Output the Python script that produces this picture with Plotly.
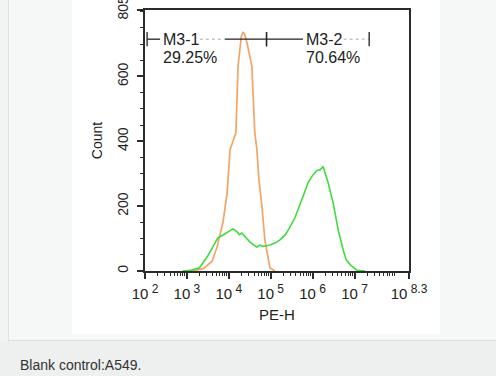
import plotly.graph_objects as go

# ---- data (x as log10 exponents of PE-H, y = Count) ----
blank_exp = [2.9, 3.2, 3.4, 3.6, 3.72, 3.86, 3.96, 4.03, 4.1, 4.17, 4.22, 4.26, 4.3, 4.34, 4.38, 4.44,
             4.5, 4.55, 4.62, 4.67, 4.72, 4.79, 4.86, 4.93, 4.98, 5.1]
blank_cnt = [0, 2, 8, 30, 74, 149, 241, 375, 400, 427, 631, 690, 725, 737, 730, 700,
             660, 631, 427, 375, 280, 200, 96, 40, 10, 0]

sample_exp = [2.9, 3.1, 3.3, 3.48, 3.6, 3.74, 3.86, 3.95, 4.05, 4.1, 4.2, 4.25, 4.31, 4.39, 4.5, 4.6,
              4.67, 4.74, 4.81, 4.9, 4.98, 5.1, 5.22, 5.35, 5.45, 5.58, 5.7, 5.8, 5.89, 6.0, 6.1,
              6.18, 6.25, 6.3, 6.37, 6.49, 6.61, 6.73, 6.8, 6.9, 7.06, 7.25]
sample_cnt = [0, 2, 10, 43, 70, 102, 111, 118, 128, 130, 121, 112, 117, 105, 90, 80,
              74, 80, 76, 78, 80, 86, 96, 112, 133, 165, 204, 240, 272, 295, 310,
              312, 322, 300, 272, 210, 127, 65, 35, 19, 2, 0]

gate_names = ["M3-1", "M3-2"]
gate_lo = [2.05, 4.9]
gate_hi = [4.9, 7.35]
gate_pct = ["29.25%", "70.64%"]
gate_y = 715

x_tick_exp = [2, 3, 4, 5, 6, 7, 8.3]
x_tick_pow = ["2", "3", "4", "5", "6", "7", "8.3"]
y_tick_vals = [0, 200, 400, 600, 805]
y_range = [0, 805]
x_range_exp = [2, 8.3]

# label layout for each gate (log10 x of: label start, dotted start, dotted end)
label_start = [2.43, 5.84]
dot_start = [3.31, 6.74]
dot_end = [3.91, 7.35]

FONT = "Liberation Sans, Arial, sans-serif"
ORANGE = "#f3a468"
GREEN = "#3ddc3d"
AX = "#2b2b2b"
INK = "#222"

x_tick_text = ["10<sup><span style='font-size:12px'> %s</span></sup>" % p for p in x_tick_pow]

fig = go.Figure()
fig.add_trace(go.Scatter(x=[10 ** e for e in blank_exp], y=blank_cnt, mode="lines",
                         line=dict(color=ORANGE, width=1.7), hoverinfo="skip"))
fig.add_trace(go.Scatter(x=[10 ** e for e in sample_exp], y=sample_cnt, mode="lines",
                         line=dict(color=GREEN, width=1.6), hoverinfo="skip"))

# gate markers
for i, (name, lo, hi, pct) in enumerate(zip(gate_names, gate_lo, gate_hi, gate_pct)):
    ls, ds, de = label_start[i], dot_start[i], dot_end[i]
    fig.add_trace(go.Scatter(x=[10 ** lo, 10 ** (ls - 0.07)], y=[gate_y, gate_y], mode="lines",
                             line=dict(color=INK, width=1.3), hoverinfo="skip"))
    fig.add_trace(go.Scatter(x=[10 ** ds, 10 ** de], y=[gate_y, gate_y], mode="lines",
                             line=dict(color="#aaaaaa", width=1, dash="dot"), hoverinfo="skip"))
    if de < hi:
        fig.add_trace(go.Scatter(x=[10 ** de, 10 ** hi], y=[gate_y, gate_y], mode="lines",
                                 line=dict(color=INK, width=1.3), hoverinfo="skip"))
    for e in (lo, hi):
        fig.add_trace(go.Scatter(x=[10 ** e, 10 ** e], y=[gate_y - 22, gate_y + 22], mode="lines",
                                 line=dict(color=INK, width=1.3), hoverinfo="skip"))
    fig.add_annotation(x=ls, y=gate_y, text=name, showarrow=False, xanchor="left",
                       yanchor="middle", xshift=-2,
                       font=dict(family=FONT, size=16, color=INK))
    fig.add_annotation(x=ls, y=gate_y - 58, text=pct, showarrow=False, xanchor="left",
                       yanchor="middle", xshift=-2,
                       font=dict(family=FONT, size=16, color=INK))

# background panels (paper coords: plot area is x 145..409, y 10..271 px)
def px_x(p):
    return (p - 145) / 264.0

def px_y(p):
    return (271 - p) / 261.0

shapes = [
    dict(type="rect", xref="paper", yref="paper", x0=px_x(-5), x1=px_x(8), y0=px_y(341), y1=px_y(-5),
         fillcolor="#f2f3f3", line=dict(width=0), layer="below"),
    dict(type="line", xref="paper", yref="paper", x0=px_x(8.5), x1=px_x(8.5), y0=px_y(341), y1=px_y(-5),
         line=dict(color="#e0e2e2", width=1), layer="below"),
    dict(type="rect", xref="paper", yref="paper", x0=px_x(72), x1=px_x(440), y0=px_y(334), y1=px_y(-5),
         fillcolor="white", line=dict(width=0), layer="below"),
    dict(type="rect", xref="paper", yref="paper", x0=px_x(-5), x1=px_x(500), y0=px_y(380), y1=px_y(341),
         fillcolor="#eeefef", line=dict(width=0), layer="below"),
    dict(type="line", xref="paper", yref="paper", x0=px_x(8), x1=px_x(500), y0=px_y(340.5), y1=px_y(340.5),
         line=dict(color="#dcdede", width=1), layer="below"),
]

fig.add_annotation(xref="paper", yref="paper", x=px_x(18), y=px_y(365), text="Blank control:A549.",
                   showarrow=False, xanchor="left", yanchor="middle",
                   font=dict(family=FONT, size=14, color="#333"))

minor_x = [m * 10 ** d for d in range(2, 9) for m in range(2, 10) if m * 10 ** d < 10 ** 8.3]

fig.update_layout(
    width=496, height=376,
    margin=dict(l=145, r=87, t=10, b=105),
    paper_bgcolor="#f6f7f7", plot_bgcolor="rgba(0,0,0,0)",
    showlegend=False, shapes=shapes,
    font=dict(family=FONT, size=13, color=INK),
    xaxis=dict(type="log", range=x_range_exp, tickmode="array", automargin=False,
               tickvals=[10 ** e for e in x_tick_exp], ticktext=x_tick_text,
               ticks="outside", ticklen=6, tickwidth=1.5, tickcolor=AX,
               ticklabelstandoff=2, ticklabeloverflow="allow",
               showline=True, linecolor=AX, linewidth=2, mirror=True,
               showgrid=False, zeroline=False,
               tickfont=dict(family=FONT, size=15, color=INK),
               minor=dict(tickmode="array", tickvals=minor_x, ticks="outside", ticklen=3,
                          tickcolor=AX, tickwidth=1, showgrid=False),
               title=dict(text="PE-H", font=dict(family=FONT, size=15, color=INK), standoff=8)),
    yaxis=dict(range=y_range, tickmode="array", tickvals=y_tick_vals, automargin=False,
               ticks="outside", ticklen=6, tickwidth=1.5, tickcolor=AX, tickangle=-90,
               ticklabelstandoff=3, ticklabeloverflow="allow",
               showline=True, linecolor=AX, linewidth=2, mirror=True,
               showgrid=False, zeroline=False,
               tickfont=dict(family=FONT, size=14, color=INK),
               minor=dict(dtick=50, ticks="outside", ticklen=3, tickcolor=AX, tickwidth=1, showgrid=False),
               title=dict(text="Count", font=dict(family=FONT, size=14, color=INK), standoff=10)),
)

fig.write_html("out.html", config={"displayModeBar": False},
               post_script="document.body.style.margin='0';document.body.style.overflow='hidden';")
